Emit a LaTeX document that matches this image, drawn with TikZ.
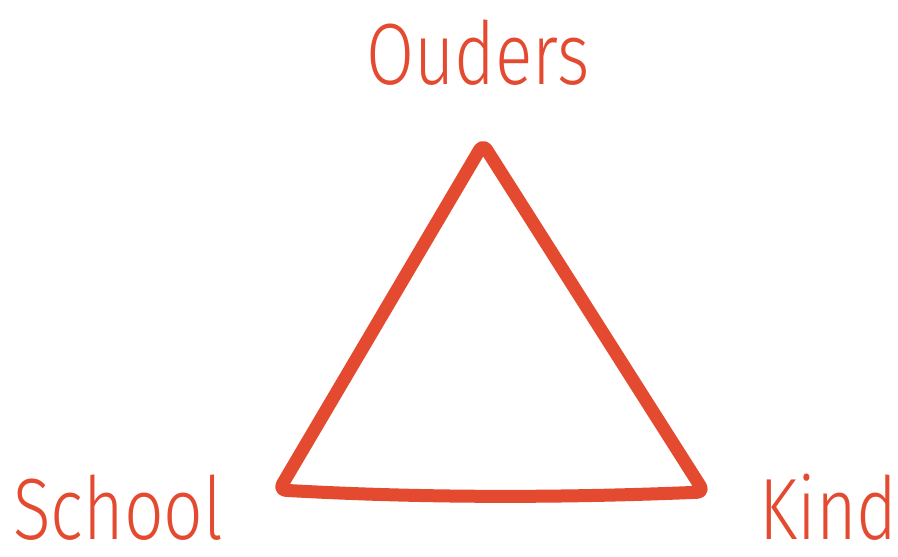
\documentclass[tikz,border=0pt]{standalone}
\usepackage{fontspec}
\setmainfont{Fira Sans Light}
\definecolor{tri}{RGB}{228,74,48}
\newcommand{\narrowtxt}[1]{\scalebox{0.8}[1]{#1}}
\begin{document}
\begin{tikzpicture}[x=1pt,y=1pt,
  lbl/.style={text=tri,font=\fontsize{87}{90}\selectfont,inner sep=0pt,anchor=base west,text depth=0pt},
  edge/.style={draw=tri,line width=13pt,line join=round,rounded corners=7pt}]
\useasboundingbox (0,0) rectangle (898,557);
\coordinate (top) at (483,413);
\coordinate (bl) at (279,67);
\coordinate (br) at (704,65);
\node[lbl] (ouders) at (366,472) {\narrowtxt{Ouders}};
\node[lbl] (school) at (13,17) {\narrowtxt{School}};
\node[lbl] (kind) at (759,17) {\narrowtxt{Kind}};
\draw[edge] (top) -- (bl) .. controls (420,59) and (560,59) .. (br) -- cycle;
\end{tikzpicture}
\end{document}
